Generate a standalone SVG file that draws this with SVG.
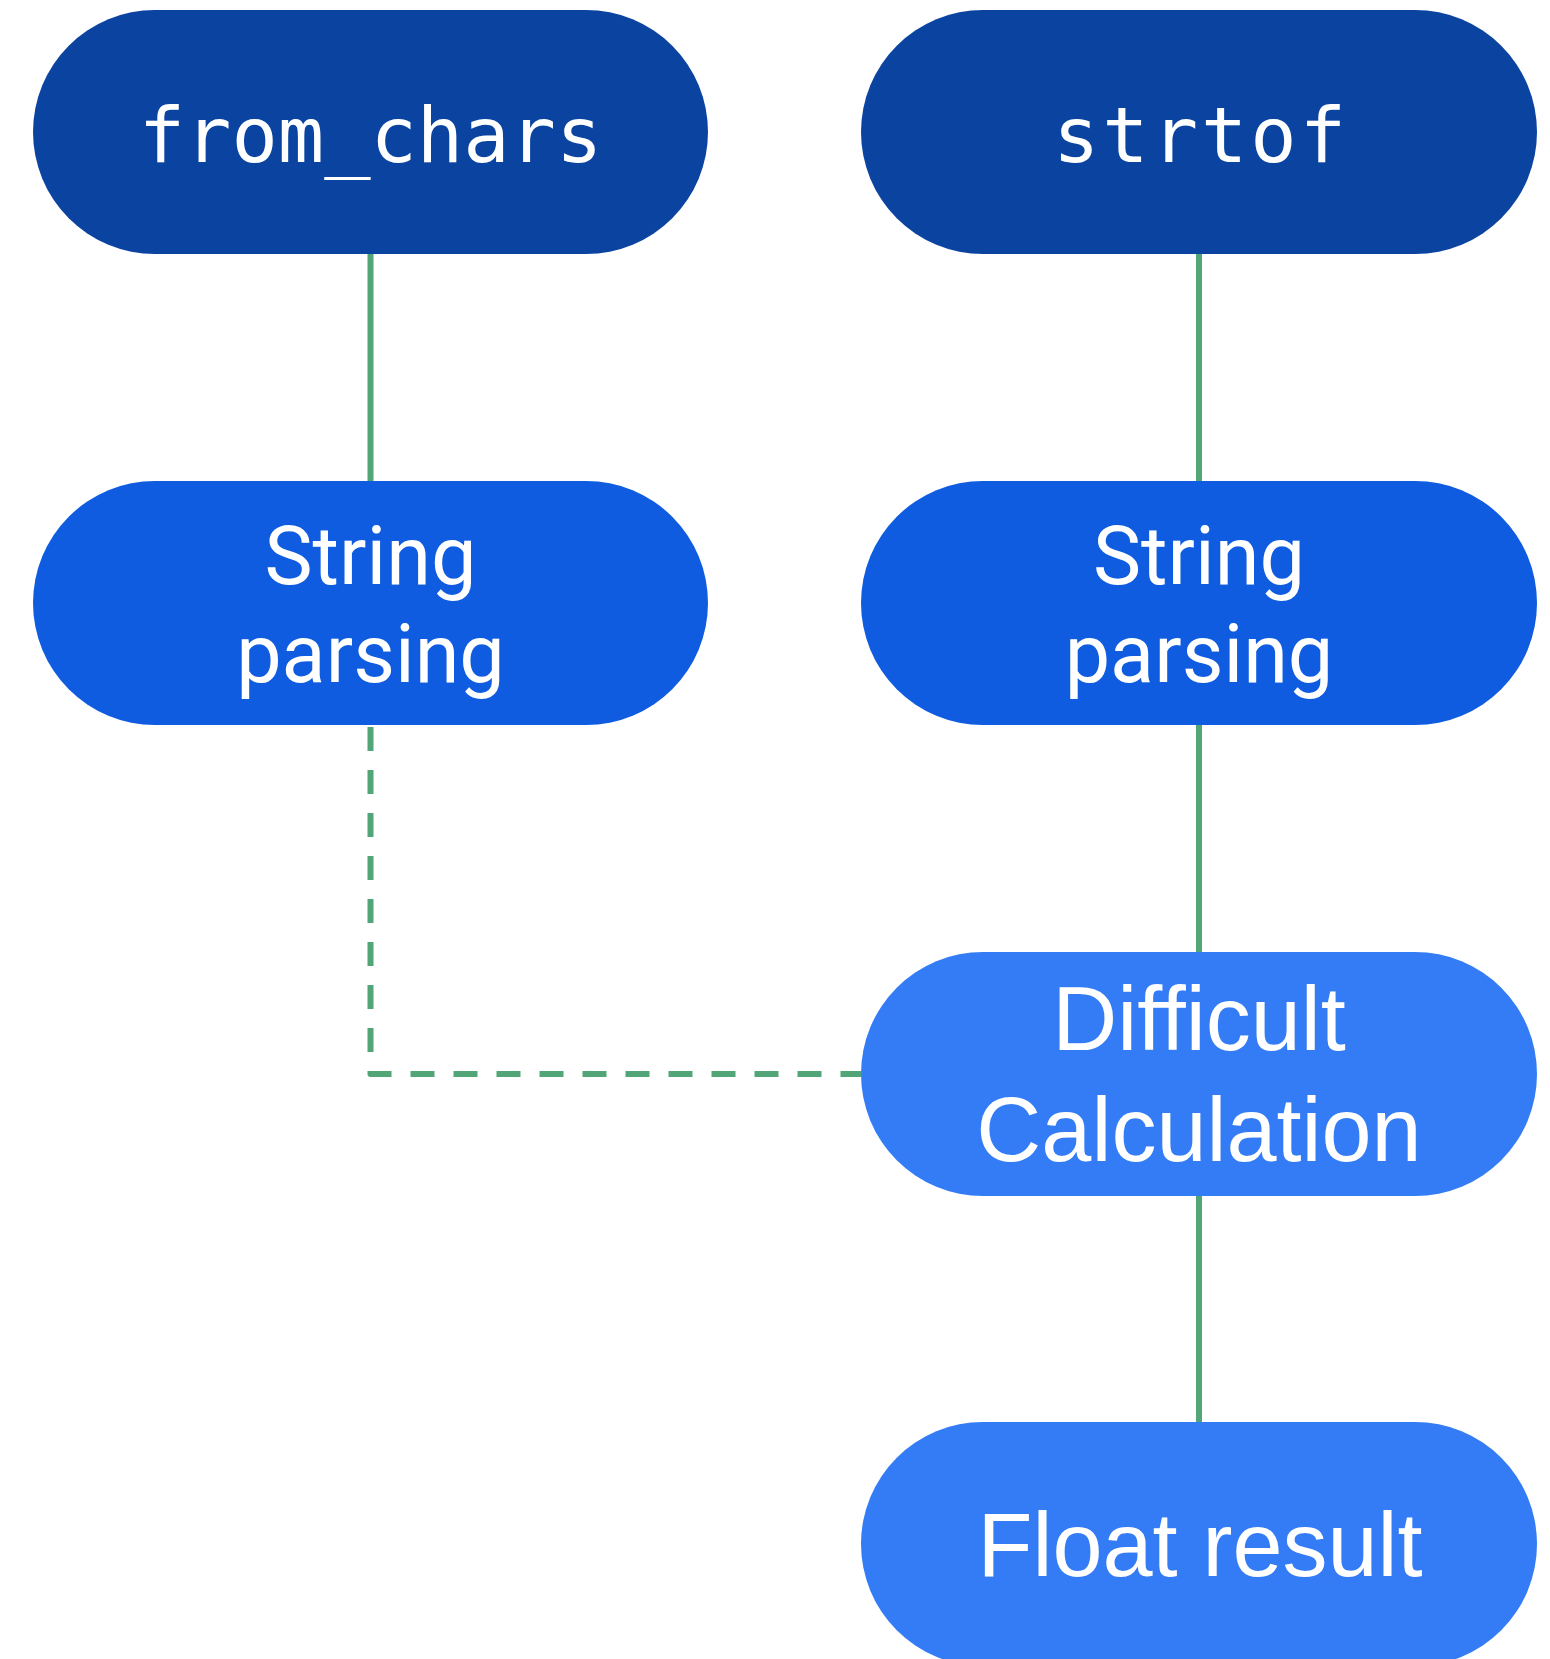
<svg xmlns="http://www.w3.org/2000/svg" width="1550" height="1659" viewBox="0 0 1550 1659">
<style>
.n1{fill:#0b43a1}
.n2{fill:#0f5ce0}
.n3{fill:#337cf5}
.mono{font-family:"DejaVu Sans Mono","Liberation Mono",monospace;font-size:77px;fill:#ffffff;text-anchor:middle}
.rob{font-family:Roboto,"Noto Sans",sans-serif;font-size:81px;fill:#ffffff;text-anchor:middle}
.ari{font-family:"Liberation Sans",Arial,sans-serif;font-size:90px;fill:#ffffff;text-anchor:middle}
.edge{stroke:#52a577;stroke-width:6;fill:none}
.dash{stroke-dasharray:24 19;stroke-linejoin:round;stroke-linecap:butt}
</style>
<rect width="1550" height="1659" fill="#ffffff"/>
<g id="connectors">
<line class="edge" x1="370.5" y1="254" x2="370.5" y2="481"/>
<line class="edge" x1="1199" y1="254" x2="1199" y2="481"/>
<line class="edge" x1="1199" y1="725" x2="1199" y2="952"/>
<line class="edge" x1="1199" y1="1196" x2="1199" y2="1422"/>
<polyline class="edge dash" points="370.5,727 370.5,1074 861,1074"/>
</g>
<g id="from_chars">
<rect class="n1" x="33" y="10" width="675" height="244" rx="122" ry="122"/>
<text class="mono" x="370.5" y="162">from_chars</text>
</g>
<g id="strtof">
<rect class="n1" x="861" y="10" width="676" height="244" rx="122" ry="122"/>
<text class="mono" x="1201" y="162" letter-spacing="3">strtof</text>
</g>
<g id="parse_left">
<rect class="n2" x="33" y="481" width="675" height="244" rx="122" ry="122"/>
<text class="rob" x="370.5" y="584">String</text>
<text class="rob" x="370.5" y="682">parsing</text>
</g>
<g id="parse_right">
<rect class="n2" x="861" y="481" width="676" height="244" rx="122" ry="122"/>
<text class="rob" x="1199" y="584">String</text>
<text class="rob" x="1199" y="682">parsing</text>
</g>
<g id="difficult">
<rect class="n3" x="861" y="952" width="676" height="244" rx="122" ry="122"/>
<text class="ari" x="1199" y="1050">Difficult</text>
<text class="ari" x="1199" y="1161">Calculation</text>
</g>
<g id="float_result">
<rect class="n3" x="861" y="1422" width="676" height="244" rx="122" ry="122"/>
<text class="ari" x="1200" y="1576">Float result</text>
</g>
</svg>
